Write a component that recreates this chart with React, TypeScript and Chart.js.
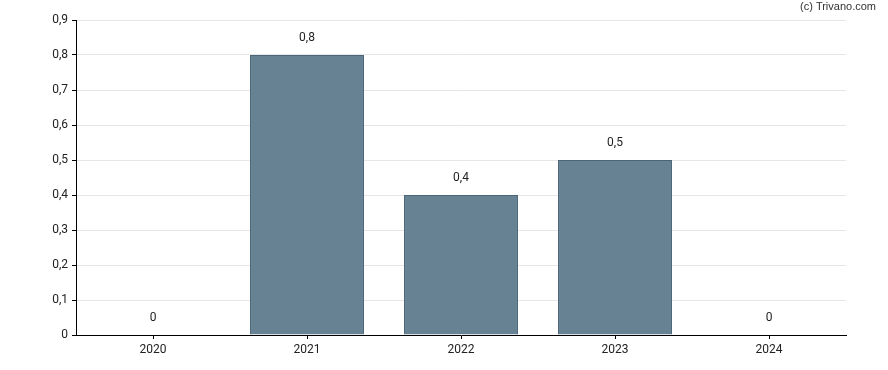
import React, { useEffect, useRef } from "react";
import { Chart, registerables } from "chart.js";

Chart.register(...registerables);

const categories = ["2020", "2021", "2022", "2023", "2024"];
const values = [0, 0.8, 0.4, 0.5, 0];
const yTicks = [0, 0.1, 0.2, 0.3, 0.4, 0.5, 0.6, 0.7, 0.8, 0.9];
const credit = "(c) Trivano.com";

const fmt = (v: number) => String(Math.round(v * 10) / 10).replace(".", ",");

const labelPlugin = {
  id: "valueLabels",
  afterDatasetsDraw(chart: any) {
    const ctx = chart.ctx;
    const meta = chart.getDatasetMeta(0);
    ctx.save();
    ctx.font = "12px Roboto";
    ctx.fillStyle = "#222";
    ctx.textAlign = "center";
    ctx.textBaseline = "middle";
    meta.data.forEach((bar: any, i: number) => {
      ctx.fillText(fmt(values[i]), bar.x, bar.y - 17);
    });
    ctx.font = "11px 'Liberation Sans', Arial";
    ctx.fillStyle = "#333";
    ctx.textAlign = "right";
    ctx.fillText(credit, 876, 7);
    ctx.restore();
  },
};

export default function App() {
  const ref = useRef<HTMLCanvasElement>(null);
  useEffect(() => {
    document.body.style.margin = "0";
    const chart = new Chart(ref.current!, {
      type: "bar",
      data: {
        labels: categories,
        datasets: [
          {
            data: values,
            backgroundColor: "rgba(102,130,147,1)",
            borderColor: "#4b6477",
            borderWidth: 1,
            barPercentage: 0.74,
            categoryPercentage: 1,
          },
        ],
      },
      options: {
        animation: false,
        responsive: false,
        maintainAspectRatio: false,
        layout: { padding: { left: 0, right: 42, top: 20, bottom: 0 } },
        plugins: { legend: { display: false }, tooltip: { enabled: false } },
        scales: {
          x: {
            grid: { offset: false, drawOnChartArea: false, tickLength: 4, color: "#000" },
            border: { color: "#000", width: 1 },
            ticks: { font: { family: "Roboto", size: 12 }, color: "#222", padding: 4 },
            afterFit(s: any) {
              s.height = 35;
            },
          },
          y: {
            min: 0,
            max: 0.9,
            afterBuildTicks(s: any) {
              s.ticks = yTicks.map((v) => ({ value: v }));
            },
            grid: { color: "#e6e6e6", tickLength: 4, tickColor: "#000" } as any,
            border: { color: "#000", width: 1 },
            ticks: {
              font: { family: "Roboto", size: 12 },
              color: "#222",
              padding: 4,
              callback: (v: any) => fmt(Number(v)),
            },
            afterFit(s: any) {
              s.width = 76;
            },
          },
        },
      },
      plugins: [labelPlugin],
    });
    return () => chart.destroy();
  }, []);
  return (
    <div style={{ width: 888, height: 370 }}>
      <canvas ref={ref} width={888} height={370} />
    </div>
  );
}
